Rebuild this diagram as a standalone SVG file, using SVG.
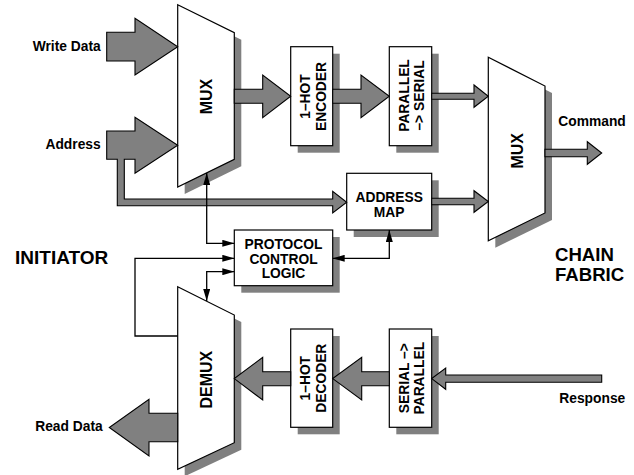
<svg xmlns="http://www.w3.org/2000/svg" width="634" height="475" viewBox="0 0 634 475">
<style>
.shape{fill:#fff;stroke:#000;stroke-width:1.2}
.shadow{fill:#808080}
.fat{fill:#808080;stroke:#000;stroke-width:1.1;stroke-linejoin:miter}
.wire{fill:none;stroke:#000;stroke-width:1.3}
text{font-family:"Liberation Sans",Arial,Helvetica,sans-serif;font-weight:bold;fill:#000}
.lbl{font-size:13.8px}
.box{font-size:13.8px;text-anchor:middle}
.mux{font-size:16px;text-anchor:middle}
.big{font-size:19px}
.big2{font-size:18.6px}
</style>
<defs>
<marker id="ah" markerUnits="userSpaceOnUse" markerWidth="12" markerHeight="7" refX="12" refY="3.5" orient="auto-start-reverse" viewBox="0 0 12 7">
<path d="M0,0 L12,3.5 L0,7 z" fill="#000"/>
</marker>
</defs>

<g id="mux1">
<polygon class="shadow" points="184.7,11.7 241.3,39.7 241.3,166.3 184.7,194"/>
<polygon class="shape" points="177.7,4.7 234.3,32.7 234.3,159.3 177.7,187"/>
<text class="mux" transform="translate(205.8,96.5) rotate(-90)" y="5.7">MUX</text>
</g>

<g id="encoder">
<rect class="shadow" x="297.7" y="53.7" width="42" height="99"/>
<rect class="shape" x="290.7" y="46.7" width="42" height="99"/>
<g transform="translate(311.7,96.5) rotate(-90)">
<text class="box" y="-1.5">1–HOT</text>
<text class="box" y="14">ENCODER</text>
</g>
</g>

<g id="p2s">
<rect class="shadow" x="396.3" y="53.7" width="42.4" height="99"/>
<rect class="shape" x="389.3" y="46.7" width="42.4" height="99"/>
<g transform="translate(410.5,95.5) rotate(-90)">
<text class="box" y="-2">PARALLEL</text>
<text class="box" y="13.5">–&gt; SERIAL</text>
</g>
</g>

<g id="mux2">
<polygon class="shadow" points="495.3,64.3 552,93 552,220 495.3,247.7"/>
<polygon class="shape" points="488.3,57.3 545,86 545,213 488.3,240.7"/>
<text class="mux" transform="translate(517.2,150.8) rotate(-90)" y="5.7">MUX</text>
</g>

<g id="addrmap">
<rect class="shadow" x="353.7" y="180.3" width="85" height="56.7"/>
<rect class="shape" x="346.7" y="173.3" width="85" height="56.7"/>
<text class="box" x="389.2" y="202">ADDRESS</text>
<text class="box" x="389.2" y="217">MAP</text>
</g>

<g id="protocol">
<rect class="shadow" x="241.3" y="237" width="98.4" height="55.7"/>
<rect class="shape" x="234.3" y="230" width="98.4" height="55.7"/>
<text class="box" x="283.5" y="248.8">PROTOCOL</text>
<text class="box" x="283.5" y="263.6">CONTROL</text>
<text class="box" x="283.5" y="278.3">LOGIC</text>
</g>

<g id="demux">
<polygon class="shadow" points="184.7,293.7 241.3,322 241.3,449.7 184.7,476.3"/>
<polygon class="shape" points="177.7,286.7 234.3,315 234.3,442.7 177.7,469.3"/>
<text class="mux" transform="translate(205.8,379.7) rotate(-90)" y="5.7">DEMUX</text>
</g>

<g id="decoder">
<rect class="shadow" x="297.7" y="336" width="42" height="98.3"/>
<rect class="shape" x="290.7" y="329" width="42" height="98.3"/>
<g transform="translate(311.7,378.2) rotate(-90)">
<text class="box" y="-1.5">1–HOT</text>
<text class="box" y="14">DECODER</text>
</g>
</g>

<g id="s2p">
<rect class="shadow" x="396.3" y="336" width="42.4" height="98.3"/>
<rect class="shape" x="389.3" y="329" width="42.4" height="98.3"/>
<g transform="translate(410.5,378.2) rotate(-90)">
<text class="box" y="-2">SERIAL –&gt;</text>
<text class="box" y="13.5">PARALLEL</text>
</g>
</g>

<g id="labels">
<text class="lbl" x="100.7" y="51" text-anchor="end">Write Data</text>
<text class="lbl" x="100.7" y="149" text-anchor="end">Address</text>
<text class="lbl" x="102.7" y="430.7" text-anchor="end">Read Data</text>
<text class="lbl" x="558.3" y="126">Command</text>
<text class="lbl" x="559.3" y="402.5">Response</text>
<text class="big" x="15" y="264.3">INITIATOR</text>
<text class="big2" x="555" y="261">CHAIN</text>
<text class="big2" x="555" y="281">FABRIC</text>
</g>

<g id="connectors">
<polygon class="fat" points="106.7,32.3 135,32.3 135,18.3 177.7,46.7 135,75 135,61 106.7,61"/>
<polygon class="fat" points="106.7,131 135,131 135,117.3 177.7,145.3 135,173.3 135,159.3 124.3,159.3 124.3,199 332.7,199 332.7,191.3 346.7,202.3 332.7,213 332.7,205.7 117.3,205.7 117.3,159.3 106.7,159.3"/>
<polygon class="fat" points="234.3,89.3 262.7,89.3 262.7,75 290.7,96.3 262.7,117.6 262.7,103.3 234.3,103.3"/>
<polygon class="fat" points="332.7,89.3 361,89.3 361,75 389.3,96.3 361,117.6 361,103.3 332.7,103.3"/>
<polygon class="fat" points="431.7,93.3 474,93.3 474,85 488.3,96.2 474,107.3 474,99.3 431.7,99.3"/>
<polygon class="fat" points="431.7,198.2 474,198.2 474,190.7 488.3,201.5 474,212.3 474,204.8 431.7,204.8"/>
<polygon class="fat" points="545,149.3 587.3,149.3 587.3,141.7 601.7,153 587.3,164.3 587.3,156.7 545,156.7"/>
<polygon class="fat" points="601.7,375 445.7,375 445.7,368 431.7,378.6 445.7,389.3 445.7,382.3 601.7,382.3"/>
<polygon class="fat" points="389.3,371.7 361.7,371.7 361.7,357.3 332.7,378.6 361.7,400 361.7,385.7 389.3,385.7"/>
<polygon class="fat" points="290.7,371.7 262.7,371.7 262.7,357.3 234.3,378.6 262.7,400 262.7,385.7 290.7,385.7"/>
<polygon class="fat" points="177.7,413.3 149,413.3 149,399.3 109.3,427.5 149,456 149,441.7 177.7,441.7"/>
<path class="wire" d="M206.7,173 V243.3 H234.3" marker-start="url(#ah)" marker-end="url(#ah)"/>
<path class="wire" d="M177.7,336 H135 V258.3 H234.3" marker-end="url(#ah)"/>
<path class="wire" d="M234.3,271.7 H206.7 V301" marker-start="url(#ah)" marker-end="url(#ah)"/>
<path class="wire" d="M389.3,230 V258.3 H332.7" marker-start="url(#ah)" marker-end="url(#ah)"/>
</g>
</svg>
